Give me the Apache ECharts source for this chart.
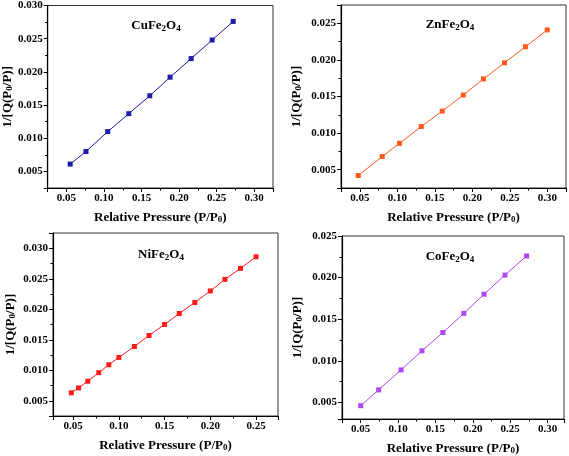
<!DOCTYPE html>
<html>
<head>
<meta charset="utf-8">
<script src="https://cdn.jsdelivr.net/npm/echarts@6/dist/echarts.min.js"></script>
<style>html,body{margin:0;padding:0;background:#fff;}#c{width:569px;height:456px;}</style>
</head>
<body>
<div id="c"></div>
<script>
// ---- data ----
const cuX = [0.055, 0.076, 0.105, 0.133, 0.161, 0.188, 0.216, 0.244, 0.272];
const cuY = [0.0061, 0.0080, 0.0110, 0.0137, 0.0164, 0.0192, 0.0220, 0.0248, 0.0276];
const znX = [0.048, 0.080, 0.103, 0.132, 0.160, 0.188, 0.215, 0.243, 0.271, 0.300];
const znY = [0.0042, 0.0068, 0.0086, 0.0109, 0.0130, 0.0152, 0.0174, 0.0196, 0.0218, 0.0241];
const niX = [0.048, 0.056, 0.066, 0.078, 0.089, 0.100, 0.117, 0.133, 0.150, 0.166, 0.183, 0.200, 0.216, 0.233, 0.250];
const niY = [0.0063, 0.0071, 0.0082, 0.0096, 0.0109, 0.0121, 0.0139, 0.0157, 0.0175, 0.0193, 0.0211, 0.0230, 0.0249, 0.0267, 0.0286];
const coX = [0.050, 0.074, 0.104, 0.132, 0.160, 0.188, 0.215, 0.243, 0.272];
const coY = [0.0046, 0.0065, 0.0089, 0.0112, 0.0134, 0.0157, 0.0180, 0.0203, 0.0226];
const sampleNames = ['CuFe{s|2}O{s|4}', 'ZnFe{s|2}O{s|4}', 'NiFe{s|2}O{s|4}', 'CoFe{s|2}O{s|4}'];
const colors = ['#1c1ca6', '#ff5a1c', '#ff1a1a', '#b048ef'];
const xTitle = '{b|Relative Pressure (P/P}{s|0}{b|)}';
const yTitle = '{b|1/[Q(P}{s|0}{b|/P)]}';

// ---- layout ----
const grids = [
  {left: 46, top: 5, width: 227, height: 183},
  {left: 341, top: 5, width: 225, height: 183},
  {left: 53, top: 233, width: 225, height: 183},
  {left: 342, top: 236, width: 222, height: 183}
];
const xRanges = [[0.025, 0.325], [0.025, 0.325], [0.028, 0.274], [0.025, 0.322]];
const yRanges = [[0.0025, 0.030], [0.0025, 0.0275], [0.0025, 0.0325], [0.003, 0.025]];
const yNameGaps = [32, 38, 36, 38];
const labelPos = [[156, 26], [450, 25], [161, 255], [450, 257]];

const FONT = '"Liberation Serif", "Times New Roman", serif';
const richT = {
  b: {fontFamily: FONT, fontWeight: 'bold', fontSize: 13, color: '#000', lineHeight: 15, verticalAlign: 'bottom'},
  s: {fontFamily: FONT, fontWeight: 'bold', fontSize: 9, color: '#000', lineHeight: 9, verticalAlign: 'bottom'}
};
function fmt(step, dec) {
  return function (v) {
    const r = v / step;
    return Math.abs(r - Math.round(r)) < 1e-6 ? v.toFixed(dec) : '';
  };
}
const lbl = {fontFamily: FONT, fontWeight: 'bold', fontSize: 11, color: '#000'};

const xAxes = [], yAxes = [], series = [], graphics = [];
const allX = [cuX, znX, niX, coX], allY = [cuY, znY, niY, coY];
for (let i = 0; i < 4; i++) {
  xAxes.push({
    gridIndex: i, type: 'value', position: 'bottom',
    min: xRanges[i][0], max: xRanges[i][1], minInterval: 0.05, maxInterval: 0.05,
    axisLine: {show: true, onZero: false, lineStyle: {color: '#000', width: 1.2}},
    axisTick: {show: true, inside: false, length: 4, lineStyle: {color: '#000', width: 1}},
    axisLabel: Object.assign({formatter: fmt(0.05, 2), margin: 5}, lbl),
    splitLine: {show: false},
    name: xTitle, nameLocation: 'middle', nameGap: 21,
    nameTextStyle: {rich: richT}
  });
  yAxes.push({
    gridIndex: i, type: 'value', position: 'left',
    min: yRanges[i][0], max: yRanges[i][1], minInterval: 0.005, maxInterval: 0.005,
    axisLine: {show: true, onZero: false, lineStyle: {color: '#000', width: 1.2}},
    axisTick: {show: true, inside: false, length: 4, lineStyle: {color: '#000', width: 1}},
    axisLabel: Object.assign({formatter: fmt(0.005, 3), margin: 5}, lbl),
    splitLine: {show: false},
    name: yTitle, nameLocation: 'middle', nameGap: yNameGaps[i], nameRotate: 90,
    nameTextStyle: {rich: richT}
  });
}
// minor tick helper axes
for (let i = 0; i < 4; i++) {
  xAxes.push({
    gridIndex: i, type: 'value', position: 'bottom',
    min: xRanges[i][0], max: xRanges[i][1], minInterval: 0.025, maxInterval: 0.025,
    axisLine: {show: false, onZero: false},
    axisTick: {show: true, inside: false, length: 2.5, lineStyle: {color: '#000', width: 1}},
    axisLabel: {show: false}, splitLine: {show: false}
  });
  yAxes.push({
    gridIndex: i, type: 'value', position: 'left',
    min: yRanges[i][0], max: yRanges[i][1], minInterval: 0.0025, maxInterval: 0.0025,
    axisLine: {show: false, onZero: false},
    axisTick: {show: true, inside: false, length: 2.5, lineStyle: {color: '#000', width: 1}},
    axisLabel: {show: false}, splitLine: {show: false}
  });
}
for (let i = 0; i < 4; i++) {
  series.push({
    type: 'line', xAxisIndex: i, yAxisIndex: i,
    data: allX[i].map((x, k) => [x, allY[i][k]]),
    symbol: 'rect', symbolSize: 5, showSymbol: true,
    lineStyle: {color: colors[i], width: 1},
    itemStyle: {color: colors[i]},
    z: 3
  });
  graphics.push({
    type: 'text', x: labelPos[i][0], y: labelPos[i][1],
    style: {
      text: sampleNames[i], align: 'center', verticalAlign: 'middle',
      font: 'bold 13px ' + FONT, fill: '#000',
      rich: {s: {fontFamily: FONT, fontWeight: 'bold', fontSize: 9, fill: '#000', padding: [6, 0, 0, 0]}}
    }
  });
}

const chart = echarts.init(document.getElementById('c'), null, {renderer: 'canvas'});
chart.setOption({
  backgroundColor: '#fff',
  animation: false,
  grid: grids.map(g => Object.assign({show: true, borderColor: '#333', borderWidth: 1, backgroundColor: 'transparent', containLabel: false}, g)),
  xAxis: xAxes,
  yAxis: yAxes,
  series: series,
  graphic: graphics
});
</script>
</body>
</html>
